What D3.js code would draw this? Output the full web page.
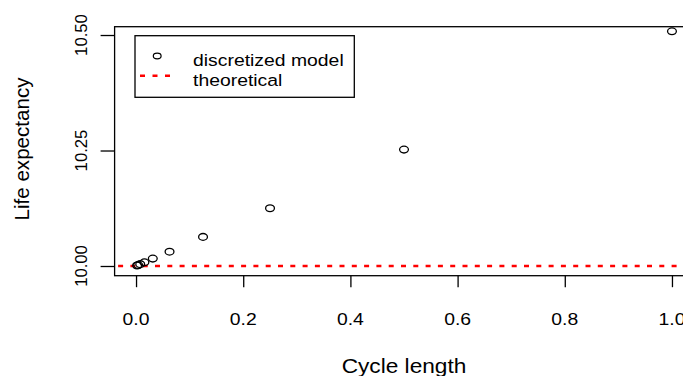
<!DOCTYPE html>
<html>
<head>
<meta charset="utf-8">
<script src="https://cdn.jsdelivr.net/npm/d3@7"></script>
<style>
  body { margin: 0; background: #fff; }
  svg { display: block; font-family: "Liberation Sans", Arial, sans-serif; }
</style>
</head>
<body>
<svg></svg>
<script>
// cycle lengths and the life expectancy of the discretized model
let cycleLength = [1, 0.5, 0.25, 0.125, 0.0625, 0.03125, 0.015625, 0.0078125, 0.00390625, 0.001953125];
let lifeExp = [10.508, 10.252, 10.125, 10.063, 10.031, 10.016, 10.008, 10.004, 10.002, 10.001];
let theoretical = 10;

let xTicks = [0, 0.2, 0.4, 0.6, 0.8, 1.0];
let yTicks = [10.0, 10.25, 10.5];
let legendLabels = ["discretized model", "theoretical"];

let width = 683;
let height = 376;

let svg = d3.select("svg").attr("width", width).attr("height", height);

let xScale = d3.scaleLinear().domain([-0.04, 1.04]).range([114.6, 693.4]);
let yScale = d3.scaleLinear().domain([9.979, 10.518]).range([275.7, 26.7]);

// the picture is a bit stretched sideways, so text gets a horizontal scale
let text = (x, y, str, size, anchor, rotate, stretch) => {
  svg
    .append("text")
    .attr("transform", "translate(" + x + "," + y + ") scale(" + stretch + ",1)" + (rotate ? " rotate(-90)" : ""))
    .attr("text-anchor", anchor)
    .attr("font-size", size)
    .attr("fill", "#000")
    .text(str);
};

// plot box
svg
  .append("rect")
  .attr("x", xScale.range()[0])
  .attr("y", yScale.range()[1])
  .attr("width", xScale.range()[1] - xScale.range()[0])
  .attr("height", yScale.range()[0] - yScale.range()[1])
  .attr("fill", "none")
  .attr("stroke", "#000")
  .attr("stroke-width", 1.3);

// axes
let xAxis = d3.axisBottom(xScale).tickValues(xTicks).tickSize(11.5).tickFormat(d3.format(".1f"));
let gx = svg
  .append("g")
  .attr("transform", "translate(0," + yScale.range()[0] + ")")
  .call(xAxis);
gx.select(".domain").remove();
gx.selectAll(".tick line").attr("stroke", "#000").attr("stroke-width", 1.3);
gx.selectAll(".tick text").remove();
xTicks.forEach((t) => text(xScale(t), 325, d3.format(".1f")(t), 16.7, "middle", false, 1.16));

let yAxis = d3.axisLeft(yScale).tickValues(yTicks).tickSize(14);
let gy = svg
  .append("g")
  .attr("transform", "translate(" + xScale.range()[0] + ",0)")
  .call(yAxis);
gy.select(".domain").remove();
gy.selectAll(".tick line").attr("stroke", "#000").attr("stroke-width", 1.3);
gy.selectAll(".tick text").remove();
yTicks.forEach((t) => text(87, yScale(t), d3.format(".2f")(t), 16.7, "middle", true, 1.0));

// axis titles
text(404, 373, "Cycle length", 20.6, "middle", false, 1.1);
text(29, 149, "Life expectancy", 20.6, "middle", true, 1.0);

// theoretical line
svg
  .append("line")
  .attr("x1", xScale.range()[0])
  .attr("x2", xScale.range()[1])
  .attr("y1", yScale(theoretical))
  .attr("y2", yScale(theoretical))
  .attr("stroke", "#ff0000")
  .attr("stroke-width", 2.6)
  .attr("stroke-dasharray", "5,7.3")
  .attr("stroke-dashoffset", 8.8);

// points
svg
  .selectAll("ellipse.dot")
  .data(cycleLength)
  .enter()
  .append("ellipse")
  .attr("class", "dot")
  .attr("cx", (d) => xScale(d))
  .attr("cy", (d, i) => yScale(lifeExp[i]))
  .attr("rx", 4.4)
  .attr("ry", 3.4)
  .attr("fill", "none")
  .attr("stroke", "#000")
  .attr("stroke-width", 1.3);

// legend
svg
  .append("rect")
  .attr("x", 135)
  .attr("y", 35.7)
  .attr("width", 219.3)
  .attr("height", 61.6)
  .attr("fill", "#fff")
  .attr("stroke", "#000")
  .attr("stroke-width", 1.3);
svg
  .append("ellipse")
  .attr("cx", 157.2)
  .attr("cy", 56)
  .attr("rx", 3.9)
  .attr("ry", 2.8)
  .attr("fill", "none")
  .attr("stroke", "#000")
  .attr("stroke-width", 1.2);
svg
  .append("line")
  .attr("x1", 140)
  .attr("x2", 170)
  .attr("y1", 75.7)
  .attr("y2", 75.7)
  .attr("stroke", "#ff0000")
  .attr("stroke-width", 2.4)
  .attr("stroke-dasharray", "5,7.5");
text(193, 65.5, legendLabels[0], 16.7, "start", false, 1.16);
text(193, 86, legendLabels[1], 16.7, "start", false, 1.16);
</script>
</body>
</html>
